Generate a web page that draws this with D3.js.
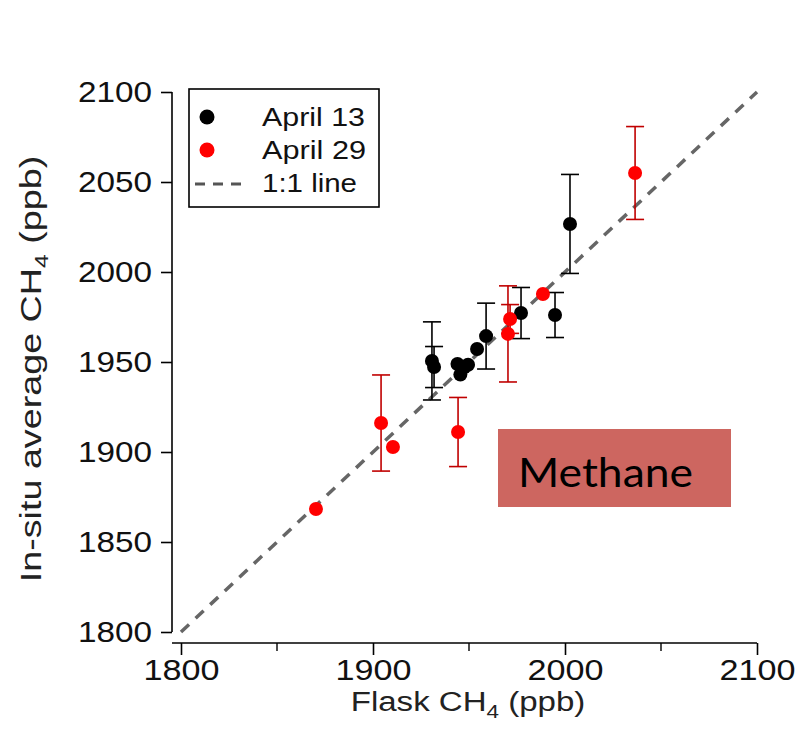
<!DOCTYPE html>
<html><head><meta charset="utf-8">
<script src="https://cdn.jsdelivr.net/npm/d3@7"></script>
<style>body{margin:0;background:#fff}svg{display:block}</style>
</head><body><svg id="c" width="800" height="749" font-family="Liberation Sans, Arial, sans-serif"></svg>
<script>
// April 13 (black): flask, in-situ, error
const apr13Flask = [1930.7,1931.8,1944.0,1945.5,1947.5,1949.5,1954.2,1958.9,1977.1,1994.8,2002.6];
const apr13Insitu = [1950.6,1947.2,1948.9,1943.0,1947.0,1948.5,1957.2,1964.4,1977.2,1976.1,2026.7];
const apr13Err   = [21.7,11.4,3,3,3,3,4,18.3,14.2,12.5,27.5];
// April 29 (red)
const apr29Flask = [1870.3,1904.2,1910.4,1944.3,1970.3,1971.4,1988.5,2036.5];
const apr29Insitu = [1868.3,1916.1,1902.8,1911.1,1965.6,1973.9,1987.8,2055.0];
const apr29Err   = [1,26.7,1,19.2,26.7,8,2,25.8];
const xTicks = [1800,1900,2000,2100];
const xMinor = [1850,1950,2050];
const yTicks = [1800,1850,1900,1950,2000,2050,2100];
const legendLabels = ["April 13","April 29","1:1 line"];

const svg = d3.select("#c");
const x = d3.scaleLinear().domain([1800,2100]).range([181,757]);
const y = d3.scaleLinear().domain([1800,2100]).range([632,92]);

// y axis
const yAx = svg.append("g").attr("transform","translate(172,0)")
  .call(d3.axisLeft(y).tickValues(yTicks).tickSize(11).tickPadding(9).tickFormat(d3.format("d")));
yAx.attr("font-family",null).attr("font-size",null);
yAx.select(".domain").attr("d","M0,92V632").attr("stroke","#000").attr("stroke-width",1.6);
yAx.selectAll(".tick line").attr("stroke-width",1.6);
yAx.selectAll(".tick text").attr("font-size",29).attr("fill","#111")
  .attr("textLength",74).attr("lengthAdjust","spacingAndGlyphs");

// x axis
const xAx = svg.append("g").attr("transform","translate(0,643)")
  .call(d3.axisBottom(x).tickValues(xTicks).tickSize(12).tickPadding(4).tickFormat(d3.format("d")));
xAx.attr("font-family",null).attr("font-size",null);
xAx.select(".domain").attr("d","M172,0H757").attr("stroke","#000").attr("stroke-width",1.6);
xAx.selectAll(".tick line").attr("stroke-width",1.6);
xAx.selectAll(".tick text").attr("font-size",29).attr("fill","#111")
  .attr("textLength",76).attr("lengthAdjust","spacingAndGlyphs");
svg.append("g").attr("transform","translate(0,643)").selectAll("line").data(xMinor).join("line")
  .attr("x1",d=>x(d)).attr("x2",d=>x(d)).attr("y1",0).attr("y2",8).attr("stroke","#000").attr("stroke-width",1.4);

// 1:1 line
svg.append("line").attr("x1",x(1800)).attr("y1",y(1800)).attr("x2",x(2100)).attr("y2",y(2100))
  .attr("stroke","#666").attr("stroke-width",3.5).attr("stroke-dasharray","11,9");

function series(fx, fy, fe, color, errColor){
  const data = fx.map((v,i)=>({x:v,y:fy[i],e:fe[i]}));
  const g = svg.append("g");
  const eb = g.selectAll("g.eb").data(data.filter(d=>d.e>4)).join("g");
  eb.append("line").attr("x1",d=>x(d.x)).attr("x2",d=>x(d.x)).attr("y1",d=>y(d.y+d.e)).attr("y2",d=>y(d.y-d.e))
    .attr("stroke",errColor).attr("stroke-width",1.6);
  eb.append("line").attr("x1",d=>x(d.x)-9).attr("x2",d=>x(d.x)+9).attr("y1",d=>y(d.y+d.e)).attr("y2",d=>y(d.y+d.e))
    .attr("stroke",errColor).attr("stroke-width",1.6);
  eb.append("line").attr("x1",d=>x(d.x)-9).attr("x2",d=>x(d.x)+9).attr("y1",d=>y(d.y-d.e)).attr("y2",d=>y(d.y-d.e))
    .attr("stroke",errColor).attr("stroke-width",1.6);
  g.selectAll("circle").data(data).join("circle").attr("cx",d=>x(d.x)).attr("cy",d=>y(d.y)).attr("r",7).attr("fill",color);
}
series(apr13Flask, apr13Insitu, apr13Err, "#000", "#000");
series(apr29Flask, apr29Insitu, apr29Err, "#ff0000", "#c00000");

// legend
const lg = svg.append("g");
lg.append("rect").attr("x",189).attr("y",89).attr("width",190).attr("height",118).attr("fill","#fff").attr("stroke","#000").attr("stroke-width",1.6);
lg.append("circle").attr("cx",207).attr("cy",117).attr("r",7.5).attr("fill","#000");
lg.append("circle").attr("cx",207).attr("cy",150).attr("r",7.5).attr("fill","#ff0000");
lg.append("line").attr("x1",195).attr("x2",246).attr("y1",184).attr("y2",184).attr("stroke","#555").attr("stroke-width",3).attr("stroke-dasharray","10,8");
lg.selectAll("text").data(legendLabels).join("text").attr("x",262).attr("y",(d,i)=>126+i*33)
  .attr("font-size",25).attr("fill","#111").text(d=>d)
  .attr("textLength",(d,i)=>[103,104,95][i]).attr("lengthAdjust","spacingAndGlyphs");

// axis titles
const xt = svg.append("g").attr("transform","translate(468,711) scale(1.18,1)")
  .append("text").attr("text-anchor","middle").attr("font-size",28).attr("fill","#222");
xt.append("tspan").text("Flask CH");
xt.append("tspan").text("4").attr("font-size",19).attr("dy",7);
xt.append("tspan").text(" (ppb)").attr("dy",-7);
const yt = svg.append("g").attr("transform","translate(41,369) rotate(-90) scale(1.3,1)")
  .append("text").attr("text-anchor","middle").attr("font-size",29).attr("fill","#222");
yt.append("tspan").text("In-situ average CH");
yt.append("tspan").text("4").attr("font-size",19).attr("dy",7);
yt.append("tspan").text(" (ppb)").attr("dy",-7);

// Methane box
svg.append("rect").attr("x",498).attr("y",429).attr("width",233).attr("height",78).attr("fill","#cd6660");
svg.append("text").attr("x",518).attr("y",487).style("font-family","Lato, 'Open Sans', sans-serif")
  .attr("font-size",40).attr("fill","#000").attr("textLength",175).attr("lengthAdjust","spacingAndGlyphs").text("Methane");
</script></body></html>
